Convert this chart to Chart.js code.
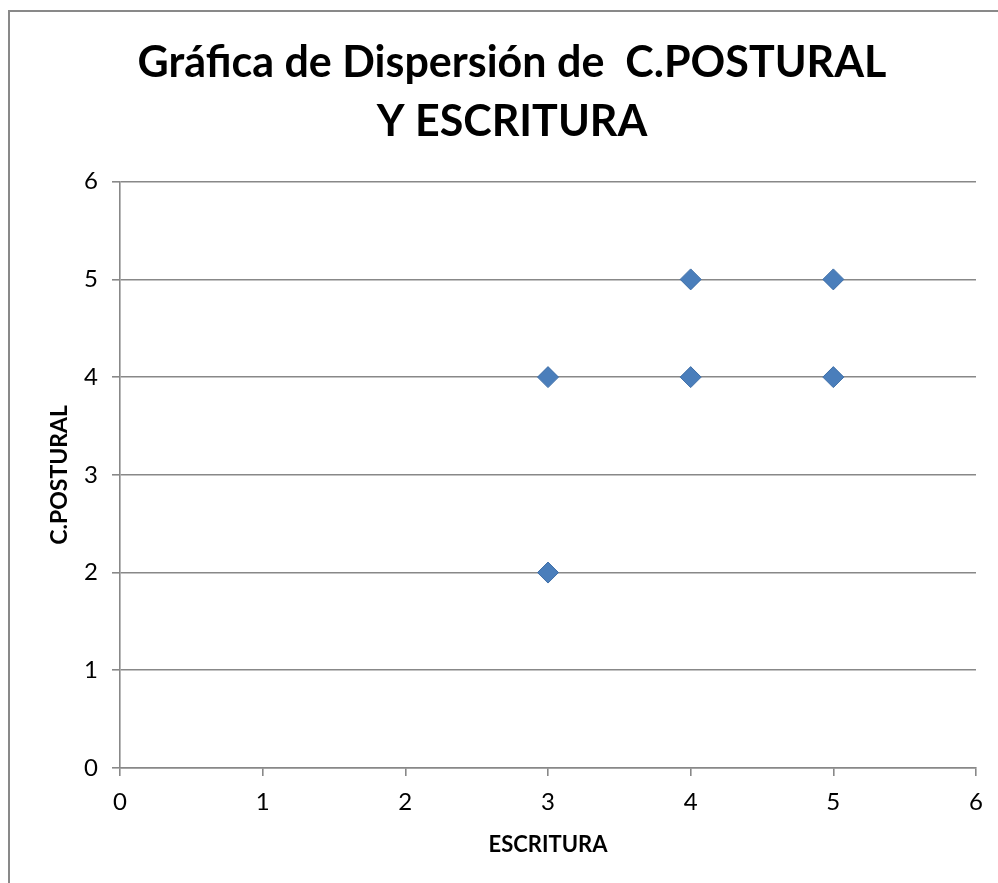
<!DOCTYPE html>
<html>
<head>
<meta charset="utf-8">
<script src="https://cdn.jsdelivr.net/npm/chart.js@4/dist/chart.umd.min.js"></script>
<style>
  body { margin: 0; background: #fff; }
  #wrap { width: 998px; height: 883px; }
</style>
</head>
<body>
<div id="wrap"><canvas id="myChart" width="998" height="883"></canvas></div>
<script>
// ---------- data ----------
const titleLines = ["Gráfica de Dispersión de  C.POSTURAL", "Y ESCRITURA"];
const xTitle = "ESCRITURA";
const yTitle = "C.POSTURAL";
const escritura = [3, 3, 4, 4, 5, 5];
const postural = [4, 2, 5, 4, 5, 4];
const axisMin = 0;
const axisMax = 6;

const points = escritura.map((x, i) => ({ x: x, y: postural[i] }));

const gray = "#888888";
const fontName = "Lato, 'Open Sans', sans-serif";

// outer frame of the chart box (only left and top edges are visible)
const framePlugin = {
  id: "frame",
  beforeDraw(chart) {
    const ctx = chart.ctx;
    ctx.save();
    ctx.fillStyle = "#fff";
    ctx.fillRect(0, 0, chart.width, chart.height);
    ctx.strokeStyle = "#898989";
    ctx.lineWidth = 2;
    ctx.beginPath();
    ctx.moveTo(9, chart.height);
    ctx.lineTo(9, 11);
    ctx.lineTo(chart.width, 11);
    ctx.stroke();
    ctx.restore();
  }
};

new Chart("myChart", {
  type: "scatter",
  data: {
    datasets: [{
      data: points,
      pointStyle: "rectRot",
      pointRadius: 10.5,
      pointHoverRadius: 10.5,
      backgroundColor: "#4a7ebb",
      borderColor: "#3f6fa8",
      borderWidth: 1
    }]
  },
  options: {
    responsive: false,
    animation: false,
    devicePixelRatio: 1,
    events: [],
    layout: { padding: { left: 48, right: 22, top: 0, bottom: 0 } },
    plugins: {
      legend: { display: false },
      tooltip: { enabled: false },
      title: {
        display: true,
        text: titleLines,
        color: "#000",
        font: { family: fontName, size: 43, weight: "bold", lineHeight: 1.38 },
        padding: { top: 33, bottom: 30 }
      }
    },
    scales: {
      x: {
        type: "linear",
        min: axisMin,
        max: axisMax,
        afterFit(scale) { scale.height = 115; },
        ticks: { stepSize: 1, color: "#000", padding: 12, font: { family: fontName, size: 24 } },
        grid: { drawOnChartArea: false, drawTicks: true, tickLength: 8, color: gray, lineWidth: 1.6 },
        border: { color: gray, width: 1.6 },
        title: {
          display: true,
          text: xTitle,
          color: "#000",
          font: { family: fontName, size: 22, weight: "bold", lineHeight: 1.2 },
          padding: { top: 0, bottom: 25 }
        }
      },
      y: {
        type: "linear",
        min: axisMin,
        max: axisMax,
        afterFit(scale) { scale.width = 72; },
        ticks: { stepSize: 1, color: "#000", padding: 14, font: { family: fontName, size: 24 } },
        grid: { drawOnChartArea: true, drawTicks: true, tickLength: 8, color: gray, lineWidth: 1.6 },
        border: { color: gray, width: 1.6 },
        title: {
          display: true,
          text: yTitle,
          color: "#000",
          font: { family: fontName, size: 23, weight: "bold", lineHeight: 1.0 },
          padding: { top: 0, bottom: 0 }
        }
      }
    }
  },
  plugins: [framePlugin]
});
</script>
</body>
</html>
